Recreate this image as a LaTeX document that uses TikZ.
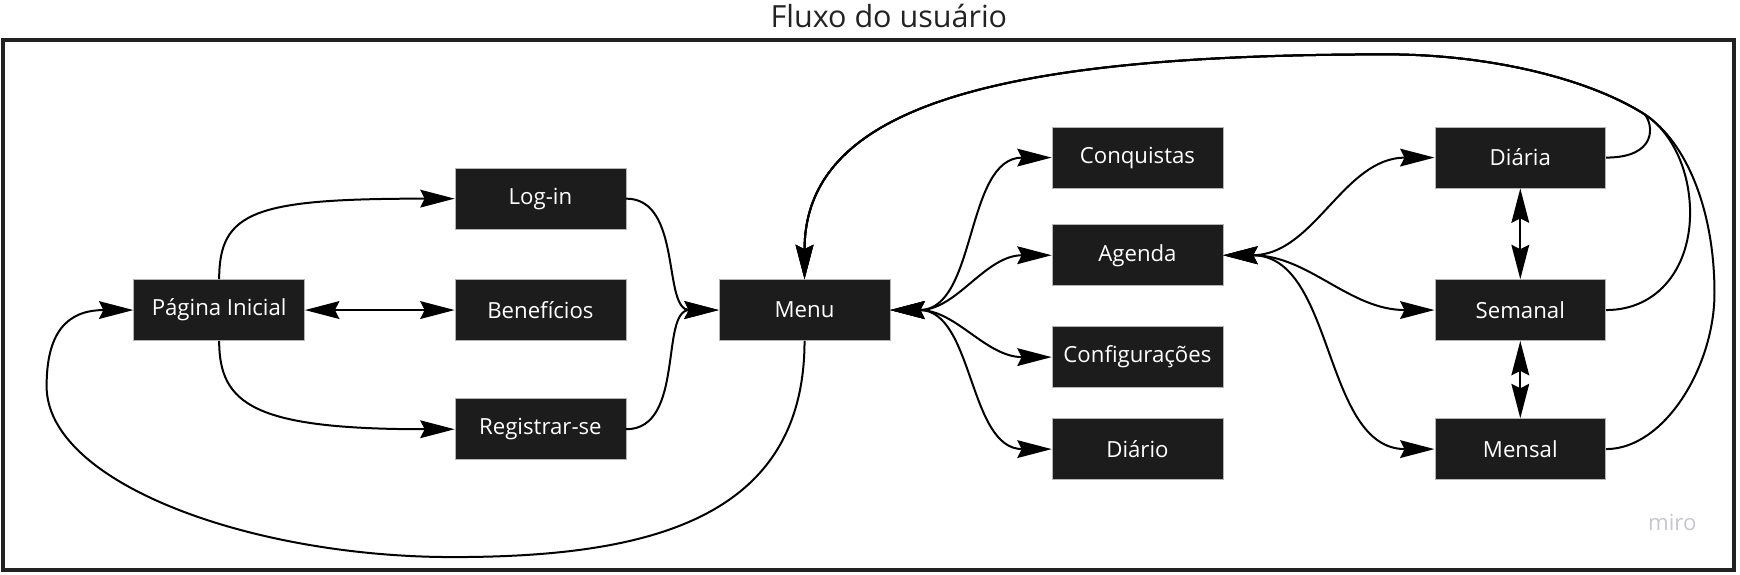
\documentclass[tikz,border=0pt]{standalone}
\usepackage{fontspec}
\setmainfont{Open Sans}
\usepackage{tikz}
\usepackage{xcolor}
\usetikzlibrary{arrows.meta}
\definecolor{boxfill}{HTML}{1C1C1C}
\definecolor{boxline}{HTML}{B4B4B4}
\definecolor{framecol}{HTML}{222222}
\definecolor{mirogray}{HTML}{C6C6D2}

\begin{document}
\begin{tikzpicture}[x=1pt,y=1pt,
  page/.style={fill=boxfill,draw=boxline,line width=0.6pt,text=white,minimum width=154pt,minimum height=55pt,inner sep=0pt,font=\fontsize{20}{24}\selectfont},
  oneway/.style={line width=1.8pt,-{Stealth[length=31pt,width=16pt,inset=4pt]}},
  twoway/.style={line width=1.8pt,{Stealth[length=31pt,width=16pt,inset=4pt]}-{Stealth[length=31pt,width=16pt,inset=4pt]}}]
\useasboundingbox (0,0) rectangle (1568,-517.3);
\draw[framecol,line width=3.6pt](2.5,-35.8) rectangle (1563,-513.5);
\node[anchor=base,text=framecol,font=\fontsize{27.5}{32}\selectfont] (title) at (801,-25) {Fluxo do usuário};
\node[anchor=base,text=mirogray,font=\fontsize{20}{24}\selectfont] (miro) at (1507,-478) {miro};
% pages
\node[page] (pi) at (197.5,-279.4) {Página Inicial};
\node[page] (login) at (487,-179) {Log-in};
\node[page] (benef) at (487,-279.4) {Benefícios};
\node[page] (regis) at (487,-386.8) {Registrar-se};
\node[page] (menu) at (725,-279.4) {Menu};
\node[page] (conq) at (1025,-142) {Conquistas};
\node[page] (agenda) at (1025,-230) {Agenda};
\node[page] (config) at (1025,-321.8) {Configurações};
\node[page] (diario) at (1025,-404.7) {Diário};
\node[page] (diaria) at (1370,-142) {Diária};
\node[page] (semanal) at (1370,-279.4) {Semanal};
\node[page] (mensal) at (1370,-404.7) {Mensal};
\coordinate (jn) at (1482,-103);
\coordinate (tp) at (1250,-49);
% start
\draw[oneway] (pi.north) .. controls (197.5,-190) and (230,-179) .. (login.west);
\draw[twoway] (pi.east) -- (benef.west);
\draw[oneway] (pi.south) .. controls (197.5,-365) and (230,-386.8) .. (regis.west);
\draw[oneway] (login.east) to[out=0,in=180] (menu.west);
\draw[oneway] (regis.east) to[out=0,in=180] (menu.west);
\draw[oneway] (menu.south) .. controls (725,-470) and (580,-502) .. (408,-502) .. controls (225,-502) and (42,-435) .. (42,-348) .. controls (42,-300) and (60,-279.4) .. (pi.west);
% menu
\foreach \t in {conq,agenda,config,diario} {\draw[twoway] (menu.east) to[out=0,in=180] (\t.west);}
\foreach \t in {diaria,semanal,mensal} {\draw[twoway] (agenda.east) to[out=0,in=180] (\t.west);}
\draw[twoway] (diaria.south) -- (semanal.north);
\draw[twoway] (semanal.south) -- (mensal.north);
% back to menu
\draw[oneway] (diaria.east) .. controls (1494,-142) and (1490,-112) .. (jn) .. controls (1430,-70) and (1340,-49) .. (tp) .. controls (900,-49) and (725,-95) .. (menu.north);
\draw[oneway] (semanal.east) .. controls (1495,-279.4) and (1524,-240) .. (1523,-189) .. controls (1522,-150) and (1505,-118) .. (jn) .. controls (1430,-70) and (1340,-49) .. (tp) .. controls (900,-49) and (725,-95) .. (menu.north);
\draw[oneway] (mensal.east) .. controls (1500,-404.7) and (1545,-330) .. (1545,-264) .. controls (1545,-190) and (1520,-128) .. (jn) .. controls (1430,-70) and (1340,-49) .. (tp) .. controls (900,-49) and (725,-95) .. (menu.north);
\end{tikzpicture}
\end{document}
